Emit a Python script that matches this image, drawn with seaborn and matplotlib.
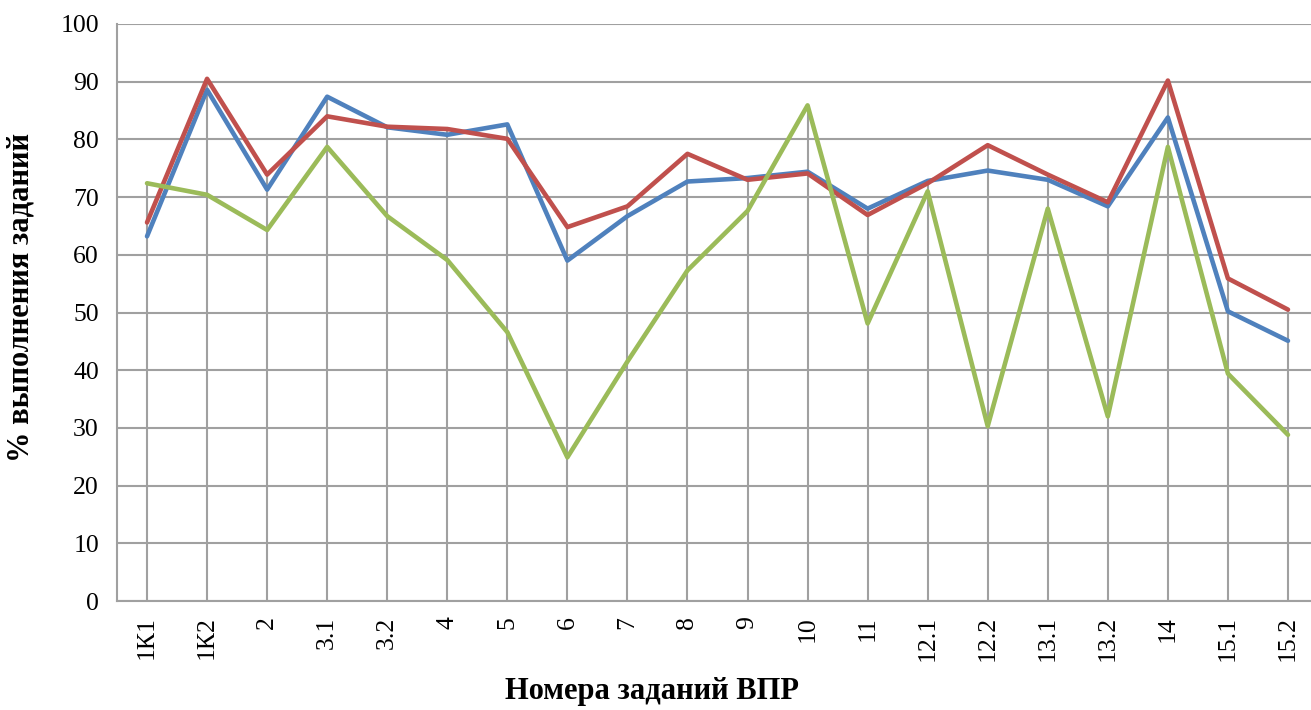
import numpy as np
import pandas as pd
import matplotlib
matplotlib.use("Agg")
import matplotlib.pyplot as plt
import seaborn as sns

sns.set_style("white")
plt.rcParams['font.family'] = ['Liberation Serif', 'DejaVu Serif']
plt.rcParams['text.color'] = 'black'
plt.rcParams['xtick.color'] = 'black'
plt.rcParams['ytick.color'] = 'black'

# task numbers and % completion for three groups
tasks = ['1К1', '1К2', '2', '3.1', '3.2', '4', '5', '6', '7', '8', '9', '10',
         '11', '12.1', '12.2', '13.1', '13.2', '14', '15.1', '15.2']
blue_vals = [63.2, 88.6, 71.3, 87.4, 82.1, 80.8, 82.6, 59.0, 66.7, 72.7,
             73.3, 74.4, 68.0, 72.8, 74.6, 73.0, 68.4, 83.8, 50.2, 45.1]
red_vals = [65.6, 90.5, 73.9, 84.0, 82.2, 81.8, 80.1, 64.8, 68.4, 77.5,
            73.0, 74.1, 66.9, 72.4, 79.0, 73.9, 69.1, 90.2, 55.9, 50.5]
green_vals = [72.4, 70.4, 64.3, 78.7, 66.7, 59.1, 46.6, 24.9, 41.5, 57.3,
              67.6, 85.9, 48.1, 71.0, 30.3, 68.0, 32.0, 78.7, 39.4, 28.8]
series_names = ['Ряд 1', 'Ряд 2', 'Ряд 3']
colors = ['#4F81BD', '#C0504D', '#9BBB59']

df = pd.DataFrame({
    'task': tasks * 3,
    'value': blue_vals + red_vals + green_vals,
    'series': np.repeat(series_names, len(tasks)),
})

fig = plt.figure(figsize=(13.11, 7.10), dpi=100)
ax = fig.add_axes([117 / 1311, 109 / 710, 1201 / 1311, 577 / 710])

grid_col = '#A0A0A0'
pos = np.arange(len(tasks))

# horizontal grid + drop lines down from the highest point
ax.set_axisbelow(True)
ax.yaxis.grid(True, color=grid_col, lw=1.5)
top = np.max([blue_vals, red_vals, green_vals], axis=0)
ax.vlines(pos, 0, top, color=grid_col, lw=1.5, zorder=1)

sns.lineplot(data=df, x='task', y='value', hue='series', palette=colors,
             lw=3.3, sort=False, legend=False, ax=ax, zorder=3)

ax.set_xlim(-0.5, len(tasks) - 0.5)
ax.set_ylim(0, 100)
ax.set_yticks(range(0, 101, 10))
ax.set_xticks(pos)
ax.set_xticklabels(tasks, rotation=90)
ax.set_xticks(np.arange(-0.5, len(tasks), 1), minor=True)

ax.tick_params(axis='x', which='major', length=0, pad=11, labelsize=18.5, labelcolor='black')
ax.tick_params(axis='x', which='minor', length=6, width=1.5, color=grid_col, direction='out')
ax.tick_params(axis='y', length=7, width=1.5, color=grid_col, direction='out',
               labelsize=18.5, pad=6, labelcolor='black')
ax.xaxis.grid(False)

for s in ['top', 'right']:
    ax.spines[s].set_visible(False)
for s in ['left', 'bottom']:
    ax.spines[s].set_color(grid_col)
    ax.spines[s].set_linewidth(1.5)

ax.set_xlabel('')
ax.set_ylabel('')
fig.text(21 / 1311, 1 - 298 / 710, '% выполнения заданий', fontsize=22, fontweight='bold',
         rotation=90, ha='center', va='center', color='black')
fig.text(652 / 1311, 1 - 692 / 710, 'Номера заданий ВПР', fontsize=22, fontweight='bold',
         ha='center', va='center', color='black')

fig.savefig('out.png', dpi=100)
